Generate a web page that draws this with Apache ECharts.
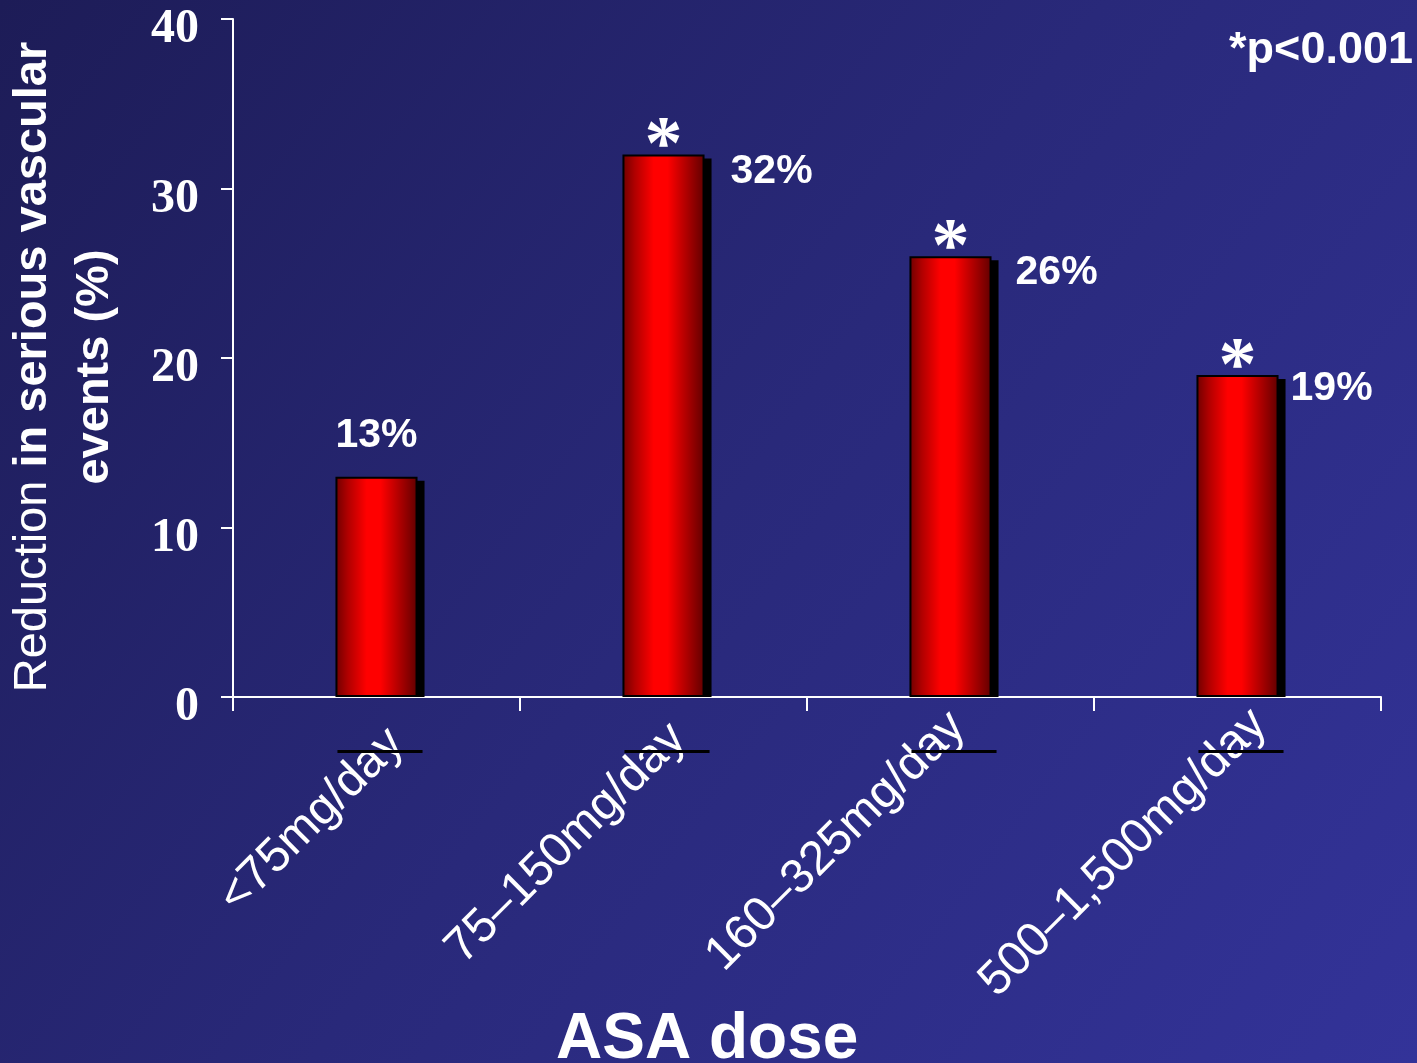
<!DOCTYPE html>
<html>
<head>
<meta charset="utf-8">
<script src="https://cdn.jsdelivr.net/npm/echarts@6/dist/echarts.min.js"></script>
<style>
html,body{margin:0;padding:0;width:1417px;height:1063px;overflow:hidden;background:#26266e;}
#chart{width:1417px;height:1063px;}
</style>
</head>
<body>
<div id="chart"></div>
<script>
// ---- data ----
const categories = ['<75mg/day', '75\u2013150mg/day', '160\u2013325mg/day', '500\u20131,500mg/day'];
const reductions = [13, 32, 26, 19];
const significance = ['', '*', '*', '*'];
const yTicks = [0, 10, 20, 30, 40];
const pNote = '*p<0.001';
const xTitle = 'ASA dose';

// ---- chart ----
const chart = echarts.init(document.getElementById('chart'), null, {renderer: 'canvas'});
const BAR_FRAC = 0.286;
const barGradient = {
  type: 'linear', x: 0, y: 0, x2: 1, y2: 0,
  colorStops: [
    {offset: 0, color: '#6e0000'},
    {offset: 0.15, color: '#b00000'},
    {offset: 0.38, color: '#ff0000'},
    {offset: 0.55, color: '#ff0000'},
    {offset: 0.82, color: '#a00000'},
    {offset: 1, color: '#600000'}
  ]
};

const labelCfg = [
  {position: 'top', distance: 20},
  {position: ['100%', 0], offset: [26, 17]},
  {position: ['100%', 0], offset: [24, 16]},
  {position: ['100%', 0], offset: [12, 14]}
];

// per-label nudges of the rotated category labels (in the text's own frame)
const xLabelNudge = [
  {padding: [0, -28, 0, 0], verticalAlign: 'middle'},
  {padding: [0, -28, 0, 0], verticalAlign: 'bottom', lineHeight: 14},
  {padding: [0, -31, 0, 0], verticalAlign: 'bottom', lineHeight: 41},
  {padding: [0, -43, 0, 0], verticalAlign: 'bottom', lineHeight: 24}
];

const barData = reductions.map((v, i) => {
  const lc = labelCfg[i];
  const label = Object.assign({}, lc);
  if (Array.isArray(lc.position)) { label.align = 'left'; label.verticalAlign = 'middle'; }
  return {value: v, label: label};
});

chart.setOption({
  backgroundColor: {
    type: 'linear', x: 0, y: 0, x2: 1, y2: 1,
    colorStops: [
      {offset: 0, color: '#1d1c57'},
      {offset: 0.5, color: '#29297a'},
      {offset: 1, color: '#333399'}
    ]
  },
  animation: false,
  grid: {left: 233, right: 36, top: 19, bottom: 366, containLabel: false, outerBoundsMode: 'none'},
  graphic: [
    {
      type: 'text', right: 4, top: 28,
      style: {text: pNote, fill: '#ffffff', font: 'bold 45px "Liberation Sans", Arial, sans-serif'}
    },
    {
      type: 'text', left: 556, top: 1008,
      style: {text: xTitle, fill: '#ffffff', font: 'bold 64px "Liberation Sans", Arial, sans-serif'}
    }
  ],
  xAxis: {
    type: 'category',
    data: categories.map((c, i) => ({value: c, textStyle: xLabelNudge[i]})),
    boundaryGap: true,
    axisLine: {lineStyle: {color: '#ffffff', width: 2}},
    axisTick: {show: true, length: 14, lineStyle: {color: '#ffffff', width: 2}},
    axisLabel: {
      interval: 0, rotate: 45, margin: 59,
      color: '#ffffff', fontSize: 48, fontFamily: '"Liberation Sans", Arial, sans-serif',
      padding: [0, -28, 0, 0]
    },
    splitLine: {show: false}
  },
  yAxis: {
    type: 'value', min: 0, max: 40, interval: 10,
    name: '{n|Reduction }{b|in serious vascular}\n{b|events (%)}',
    nameLocation: 'middle', nameRotate: 90, nameGap: 107, nameMoveOverlap: false,
    nameTextStyle: {
      color: '#ffffff', lineHeight: 62, align: 'center', padding: [0, 18, 0, 0],
      rich: {
        n: {fontSize: 47, fontFamily: '"Liberation Sans", Arial, sans-serif', color: '#ffffff', lineHeight: 62},
        b: {fontSize: 47, fontWeight: 'bold', fontFamily: '"Liberation Sans", Arial, sans-serif', color: '#ffffff', lineHeight: 62}
      }
    },
    axisLine: {show: true, lineStyle: {color: '#ffffff', width: 2}},
    axisTick: {show: true, inside: false, length: 12, lineStyle: {color: '#ffffff', width: 2}},
    axisLabel: {
      margin: 34, color: '#ffffff', fontSize: 48, fontWeight: 'bold',
      fontFamily: '"Liberation Serif", "Times New Roman", serif',
      verticalAlign: 'top', lineHeight: 22,
      formatter: v => (yTicks.indexOf(v) >= 0 ? String(v) : '')
    },
    splitLine: {show: false}
  },
  series: [
    {
      // drop shadow + dash under each bar
      type: 'custom', z: 1, silent: true,
      data: reductions.map((v, i) => [i, v]),
      renderItem: function (params, api) {
        const top = api.coord([api.value(0), api.value(1)]);
        const base = api.coord([api.value(0), 0]);
        const w = api.size([1, 0])[0] * BAR_FRAC;
        const x0 = top[0] - w / 2;
        return {
          type: 'group',
          children: [
            {type: 'rect', shape: {x: x0 + 7, y: top[1] + 4, width: w, height: base[1] - top[1] - 4},
             style: {fill: '#000000'}},
            {type: 'rect', shape: {x: x0 + 2, y: base[1] + 53, width: w + 3, height: 3},
             style: {fill: '#000000'}}
          ]
        };
      }
    },
    {
      type: 'bar', z: 2,
      data: barData,
      barWidth: (BAR_FRAC * 100) + '%',
      itemStyle: {color: barGradient, borderColor: '#000000', borderWidth: 2},
      label: {
        show: true, color: '#ffffff', fontSize: 41, fontWeight: 'bold',
        fontFamily: '"Liberation Sans", Arial, sans-serif',
        formatter: '{c}%'
      }
    },
    {
      // significance asterisks
      type: 'custom', z: 3, silent: true,
      data: reductions.map((v, i) => [i, v, significance[i]]),
      renderItem: function (params, api) {
        const i = params.dataIndex;
        if (!significance[i]) return null;
        const top = api.coord([api.value(0), api.value(1)]);
        return {
          type: 'text',
          style: {
            x: top[0], y: top[1] + 32, text: significance[i],
            fill: '#ffffff', align: 'center', verticalAlign: 'bottom',
            font: 'bold 76px "Liberation Serif", "Times New Roman", serif'
          }
        };
      }
    }
  ]
});
</script>
</body>
</html>
